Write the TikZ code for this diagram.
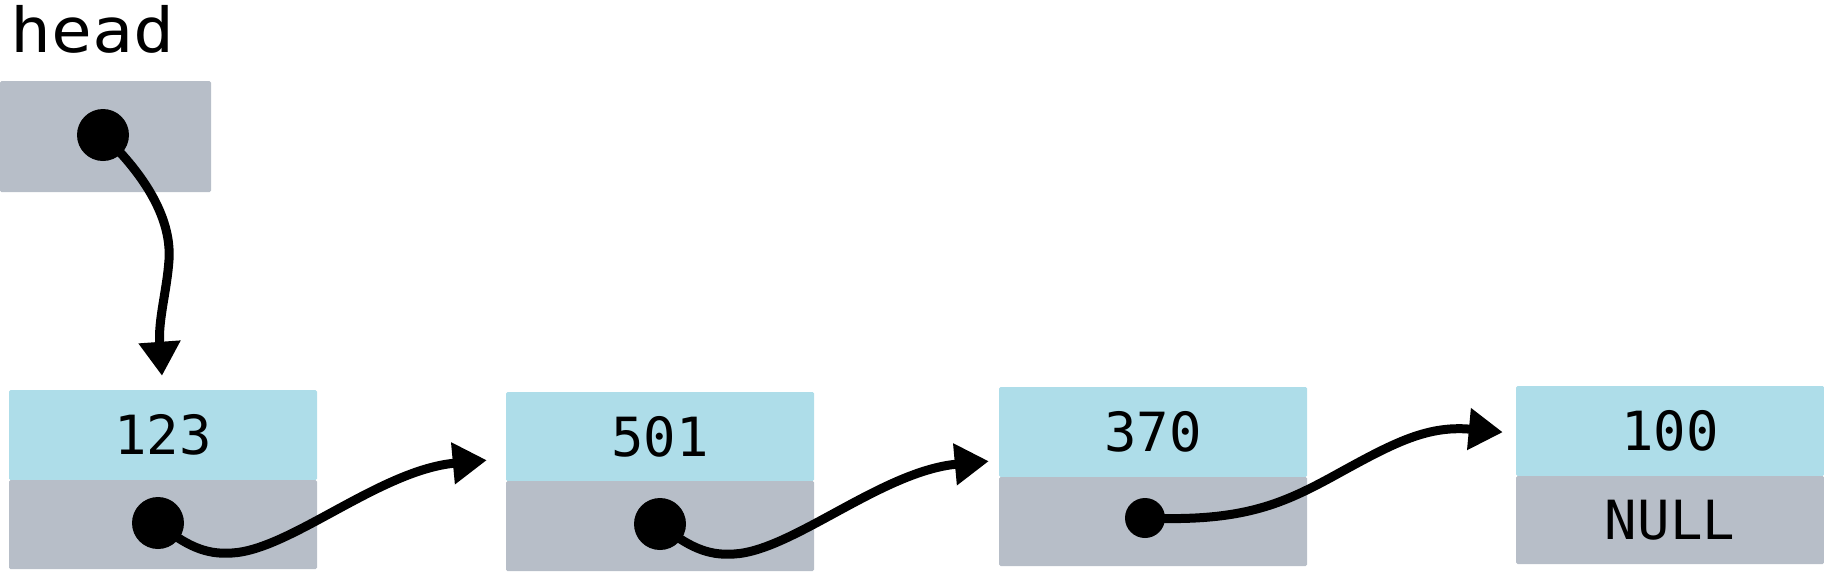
\documentclass[tikz,border=0pt]{standalone}
\usepackage{fontspec}
\newfontfamily\monofont{DejaVu Sans Mono}
\newfontfamily\headfont[FakeStretch=1.1]{DejaVu Sans Mono}
\usetikzlibrary{arrows.meta}
\definecolor{valblue}{HTML}{AEDDE9}
\definecolor{ptrgray}{HTML}{B7BEC8}
\tikzset{
  valbox/.style={fill=valblue, rounded corners=1.5pt, inner sep=0pt, minimum width=308pt, minimum height=90pt, font=\monofont\fontsize{54}{60}\selectfont},
  ptrbox/.style={fill=ptrgray, rounded corners=1.5pt, inner sep=0pt, minimum width=308pt, minimum height=89pt, font=\monofont\fontsize{54}{60}\selectfont},
  dot/.style={circle, fill=black, inner sep=0pt, minimum size=52pt},
  smalldot/.style={circle, fill=black, inner sep=0pt, minimum size=40pt},
  link/.style={line width=9pt, -{Triangle[length=34pt,width=40pt]}},
}
\begin{document}
\begin{tikzpicture}[x=1pt,y=-1pt]
\useasboundingbox (0,0) rectangle (1824,571);
% head
\node[anchor=base west, inner sep=0pt, font=\headfont\fontsize{62}{70}\selectfont] (headlbl) at (10,52) {head};
\node[ptrbox, minimum width=211pt, minimum height=111pt] (hbox) at (105.5,136.5) {};
% list nodes
\node[valbox] (v1) at (163,435) {123};
\node[ptrbox] (p1) at (163,524.5) {};
\node[valbox, minimum height=89pt] (v2) at (660,436.5) {501};
\node[ptrbox, minimum height=90pt] (p2) at (660,526) {};
\node[valbox] (v3) at (1153,432) {370};
\node[ptrbox] (p3) at (1153,521.5) {};
\node[valbox] (v4) at (1670,431) {100};
\node[ptrbox, minimum height=88pt] (p4) at (1670,520) {NULL};
% arrow end points
\coordinate (t1) at ([xshift=-1pt,yshift=14pt]v1.north);
\coordinate (t2) at ([xshift=-19pt,yshift=21pt]v2.south west);
\coordinate (t3) at ([xshift=-10pt,yshift=16pt]v3.south west);
\coordinate (t4) at ([xshift=-13pt,yshift=44pt]v4.south west);
% dots
\node[dot] (dh) at (103,135) {};
\node[dot] (d1) at (158,523) {};
\node[dot] (d2) at (660,524) {};
\node[smalldot] (d3) at (1145,518) {};
% connectors
\draw[link] (dh.center) .. controls (140,170) and (172,215) .. (169,260)
  .. controls (167,290) and (158,320) .. (t1);
\draw[link] (d1.center) .. controls (185,545) and (205,555) .. (232,553)
  .. controls (290,550) and (380,470) .. (t2);
\draw[link] (d2.center) .. controls (687,546) and (707,556) .. (734,554)
  .. controls (792,551) and (882,471) .. (t3);
\draw[link] (d3.center) .. controls (1240,522) and (1280,505) .. (1330,478)
  .. controls (1390,445) and (1425,425) .. (t4);
\end{tikzpicture}
\end{document}
